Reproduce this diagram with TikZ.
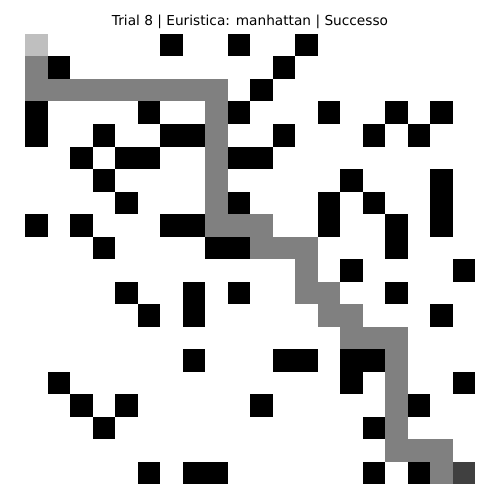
\documentclass[tikz,border=0pt]{standalone}
\usepackage{fontspec}
\setmainfont{DejaVu Sans}
\definecolor{routegray}{HTML}{808080}
\definecolor{startgray}{HTML}{BFBFBF}
\definecolor{goalgray}{HTML}{404040}
\begin{document}
\begin{tikzpicture}[
    x=22.5pt, y=-22.5pt,
    every node/.style={font=\fontsize{13.7pt}{16pt}\selectfont},
    wall/.style={fill=black},
    route/.style={fill=routegray},
    startcell/.style={fill=startgray},
    goalcell/.style={fill=goalgray}
]
    \useasboundingbox[fill=white] (-25pt,34pt) rectangle (475pt,-466pt);
    \node[anchor=base] (heading) at (10,-0.38) {Trial 8 | Euristica: manhattan | Successo};

    % obstacles, row by row
    \foreach \r/\cols in {0/{6,9,12}, 1/{1,11}, 2/{10}, 3/{0,5,9,13,16,18},
        4/{0,3,6,7,11,15,17}, 5/{2,4,5,9,10}, 6/{3,14,18}, 7/{4,9,13,15,18},
        8/{0,2,6,7,13,16,18}, 9/{3,8,9,16}, 10/{14,19}, 11/{4,7,9,16},
        12/{5,7,18}, 14/{7,11,12,14,15}, 15/{1,14,19}, 16/{2,4,10,17},
        17/{3,15}, 19/{5,7,8,15,17}}
        \foreach \c in \cols
            \fill[wall] (\c,\r) rectangle ++(1,1);

    % path found
    \foreach \r/\cols in {1/{0}, 2/{0,...,8}, 3/{8}, 4/{8}, 5/{8}, 6/{8}, 7/{8},
        8/{8,9,10}, 9/{10,11,12}, 10/{12}, 11/{12,13}, 12/{13,14},
        13/{14,15,16}, 14/{16}, 15/{16}, 16/{16}, 17/{16}, 18/{16,17,18}, 19/{18}}
        \foreach \c in \cols
            \fill[route] (\c,\r) rectangle ++(1,1);

    \fill[startcell] (0,0) rectangle ++(1,1);
    \fill[goalcell] (19,19) rectangle ++(1,1);
\end{tikzpicture}
\end{document}
